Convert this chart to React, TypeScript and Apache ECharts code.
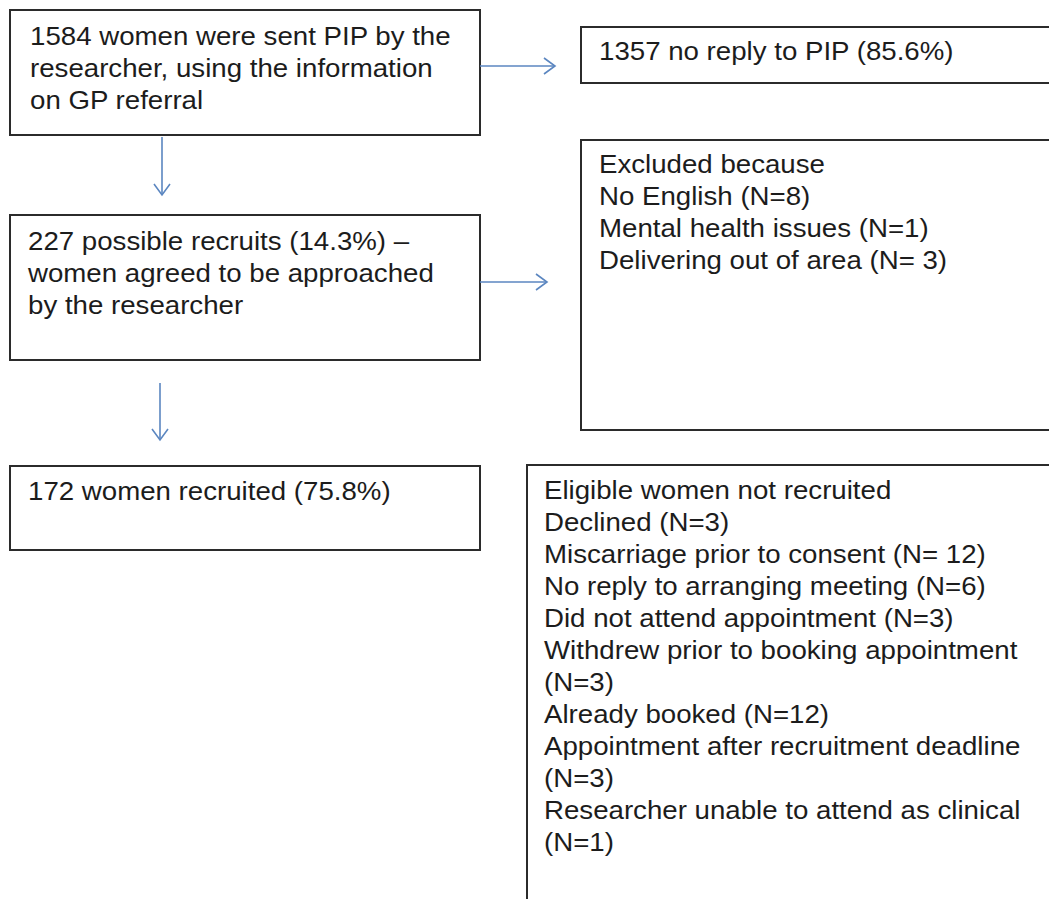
import React, { useEffect, useRef } from "react";
import * as echarts from "echarts";

const box1Lines = [
  "1584 women were sent PIP by the",
  "researcher, using the information",
  "on GP referral",
];
const noReplyLines = ["1357 no reply to PIP (85.6%)"];
const excludedLines = [
  "Excluded because",
  "No English (N=8)",
  "Mental health issues (N=1)",
  "Delivering out of area (N= 3)",
];
const box2Lines = [
  "227 possible recruits (14.3%) \u2013",
  "women agreed to be approached",
  "by the researcher",
];
const recruitedLines = ["172 women recruited (75.8%)"];
const notRecruitedLines = [
  "Eligible women not recruited",
  "Declined (N=3)",
  "Miscarriage prior to consent (N= 12)",
  "No reply to arranging meeting (N=6)",
  "Did not attend appointment (N=3)",
  "Withdrew prior to booking appointment",
  "(N=3)",
  "Already booked (N=12)",
  "Appointment after recruitment deadline",
  "(N=3)",
  "Researcher unable to attend as clinical",
  "(N=1)",
];

const FONT = '26px "Liberation Sans", Arial, sans-serif';
const LINE_H = 32;
const STRETCH = 1.064;
const BORDER = "#2b2b2b";
const ARROW = "#5b86c0";

function box(x: number, y: number, w: number, h: number, lines: string[], tx: number, ty: number) {
  const els: any[] = [
    {
      type: "rect",
      shape: { x, y, width: w, height: h },
      style: { fill: "#fff", stroke: BORDER, lineWidth: 2 },
    },
  ];
  lines.forEach((t, i) => {
    els.push({
      type: "text",
      x: tx,
      y: ty + i * LINE_H,
      scaleX: STRETCH,
      style: {
        text: t,
        x: 0,
        y: 0,
        font: FONT,
        fill: "#1c1c1c",
        verticalAlign: "middle",
        align: "left",
      },
    });
  });
  return els;
}

function arrow(x1: number, y1: number, x2: number, y2: number) {
  const dx = x2 - x1;
  const dy = y2 - y1;
  const len = Math.sqrt(dx * dx + dy * dy);
  const ux = dx / len;
  const uy = dy / len;
  const back = 11;
  const side = 8;
  return [
    {
      type: "line",
      shape: { x1, y1, x2, y2 },
      style: { stroke: ARROW, lineWidth: 1.6 },
    },
    {
      type: "polyline",
      shape: {
        points: [
          [x2 - ux * back - uy * side, y2 - uy * back + ux * side],
          [x2, y2],
          [x2 - ux * back + uy * side, y2 - uy * back - ux * side],
        ],
      },
      style: { stroke: ARROW, lineWidth: 1.6, fill: "none" },
    },
  ];
}

export default function App() {
  const ref = useRef<HTMLDivElement>(null);
  useEffect(() => {
    if (!ref.current) return;
    const chart = echarts.init(ref.current, null, { renderer: "svg" });
    const elements: any[] = [
      ...box(10, 10, 470, 125, box1Lines, 30, 36),
      ...box(581, 27, 480, 56, noReplyLines, 599, 51),
      ...box(581, 140, 480, 290, excludedLines, 599, 164),
      ...box(10, 215, 470, 145, box2Lines, 28, 241),
      ...box(10, 466, 470, 84, recruitedLines, 28, 491),
      ...box(527, 465, 540, 450, notRecruitedLines, 544, 490),
      ...arrow(480, 66, 555, 66),
      ...arrow(480, 282, 547, 282),
      ...arrow(162, 137, 162, 195),
      ...arrow(160, 383, 160, 440),
    ];
    chart.setOption({
      animation: false,
      backgroundColor: "#ffffff",
      graphic: { elements },
    });
    return () => chart.dispose();
  }, []);
  return (
    <div
      ref={ref}
      style={{ position: "fixed", left: 0, top: 0, width: 1049, height: 899 }}
    />
  );
}
